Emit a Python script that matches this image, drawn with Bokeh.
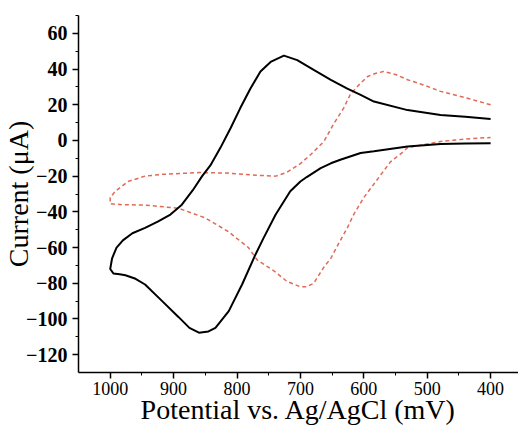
from bokeh.plotting import figure
from bokeh.models import Range1d, FixedTicker
from bokeh.embed import file_html
from bokeh.resources import INLINE

# Black solid CV: upper branch 400 -> 1000, then lower branch 1000 -> 400
black_x = [400, 440, 479, 531, 584, 605, 626, 652, 679, 705, 726, 747, 763, 779, 795, 810, 826, 842, 855, 870, 887, 905, 925, 945, 965, 980, 990, 997, 1000,
           995, 985, 976, 960, 945, 918, 892, 875, 860, 845, 834, 813, 792, 771, 758, 739, 716, 700, 690, 679, 668, 652, 637, 605, 584, 531, 479, 440, 400]
black_y = [12, 13.3, 14.3, 17, 21.8, 25.5, 29, 34, 39.5, 45, 47.5, 44, 38.6, 29, 18, 7, -4, -14, -20, -28, -36, -41.5, -45.5, -49, -52, -56, -60, -66, -72,
           -74.5, -75, -75.5, -77.5, -80.7, -90, -99, -105, -107.7, -107, -105, -95.6, -80.7, -64, -54.6, -41.5, -28.5, -23, -20.5, -18, -15.5, -12.8, -10.8, -7, -6, -3.4, -2, -1.7, -1.5]

# Red dashed CV
red_x = [400, 440, 479, 505, 531, 550, 569, 582, 594, 608, 621, 632, 648, 663, 684, 700, 711, 722, 739, 770, 814, 860, 918, 945, 972, 992, 1000,
         1000, 980, 945, 892, 850, 814, 782, 768, 755, 742, 721, 700, 690, 679, 663, 652, 637, 626, 616, 600, 579, 558, 540, 531, 479, 440, 400]
red_y = [20, 24, 27.5, 31, 34, 37, 38.6, 37.5, 35.8, 31, 26, 18, 9, -0.6, -8, -13, -15.5, -18, -20, -19.5, -18.3, -18, -19, -20, -23, -28.5, -32,
         -35.5, -36, -36.2, -38, -43.4, -51, -60, -67, -70, -73, -79, -82, -82, -80, -71, -66, -56, -49, -41.5, -32, -22, -12, -7, -4, -0.6, 0.8, 1.7]

x_ticks = [1000, 900, 800, 700, 600, 500, 400]
x_minor = [950, 850, 750, 650, 550, 450]
y_ticks = [60, 40, 20, 0, -20, -40, -60, -80, -100, -120]
y_minor = [70, 50, 30, 10, -10, -30, -50, -70, -90, -110]

FONT = "Liberation Serif"
TICK_FONT = "Times New Roman"

p = figure(width=518, height=432, output_backend="svg", toolbar_location=None,
           x_range=Range1d(1050, 356), y_range=Range1d(-130, 70),
           min_border_left=78, min_border_right=0, min_border_top=15, min_border_bottom=60)
p.outline_line_color = None
p.xgrid.grid_line_color = None
p.ygrid.grid_line_color = None

p.line(red_x, red_y, line_color="#e06a55", line_width=1.5, line_dash="4 3")
p.line(black_x, black_y, line_color="black", line_width=2)

p.xaxis.ticker = FixedTicker(ticks=x_ticks, minor_ticks=x_minor)
p.yaxis.ticker = FixedTicker(ticks=y_ticks, minor_ticks=y_minor)

for ax in (p.xaxis[0], p.yaxis[0]):
    ax.axis_line_color = "black"
    ax.axis_line_width = 1.5
    ax.major_tick_line_color = "black"
    ax.major_tick_line_width = 1.5
    ax.minor_tick_line_color = "black"
    ax.major_tick_out = 6
    ax.major_tick_in = 0
    ax.minor_tick_out = 3
    ax.minor_tick_in = 0
    ax.major_label_text_color = "black"
    ax.major_label_text_font = TICK_FONT
    ax.axis_label_text_font = FONT
    ax.axis_label_text_font_style = "normal"
    ax.axis_label_text_font_size = "28px"
    ax.axis_label_text_color = "black"

p.xaxis.major_label_text_font_size = "18px"
p.yaxis.major_label_text_font_size = "20px"
p.yaxis.major_label_text_font_style = "bold"

p.xaxis.axis_label = "Potential vs. Ag/AgCl (mV)"
p.yaxis.axis_label = "Current (μA)"
p.xaxis.major_label_standoff = 3
p.yaxis.major_label_standoff = 5
p.xaxis.axis_label_standoff = -4
p.yaxis.axis_label_standoff = -11

open("out.html", "w").write(file_html(p, INLINE))
